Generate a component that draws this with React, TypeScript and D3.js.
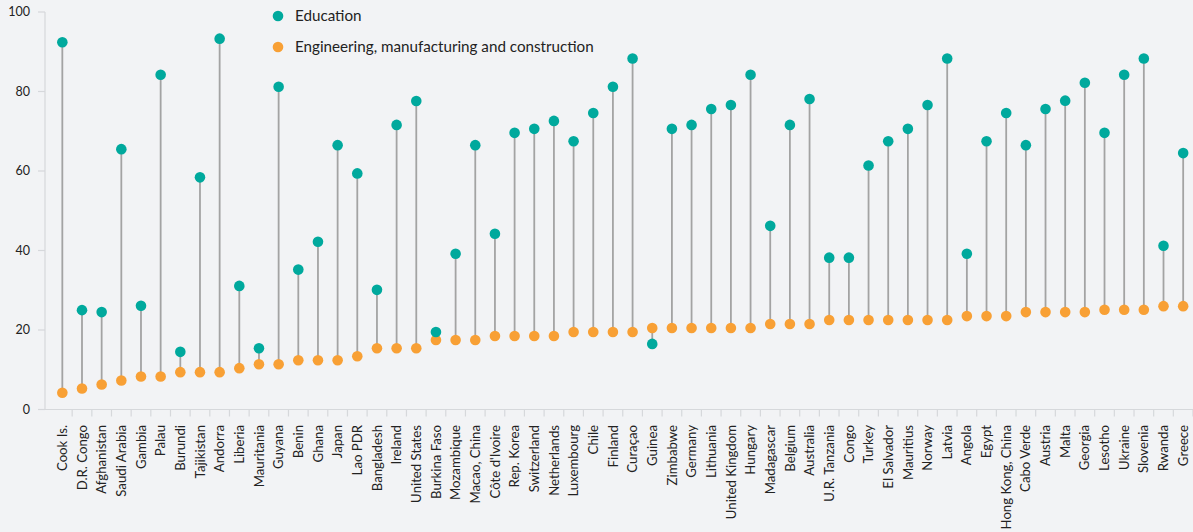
import React from "react";
import * as d3 from "d3";

const countries = [
  "Cook Is.", "D.R. Congo", "Afghanistan", "Saudi Arabia", "Gambia", "Palau", "Burundi", "Tajikistan",
  "Andorra", "Liberia", "Mauritania", "Guyana", "Benin", "Ghana", "Japan", "Lao PDR", "Bangladesh",
  "Ireland", "United States", "Burkina Faso", "Mozambique", "Macao, China", "Côte d'Ivoire", "Rep. Korea",
  "Switzerland", "Netherlands", "Luxembourg", "Chile", "Finland", "Curaçao", "Guinea", "Zimbabwe",
  "Germany", "Lithuania", "United Kingdom", "Hungary", "Madagascar", "Belgium", "Australia",
  "U.R. Tanzania", "Congo", "Turkey", "El Salvador", "Mauritius", "Norway", "Latvia", "Angola", "Egypt",
  "Hong Kong, China", "Cabo Verde", "Austria", "Malta", "Georgia", "Lesotho", "Ukraine", "Slovenia",
  "Rwanda", "Greece",
];

const education = [
  92.4, 25.0, 24.5, 65.5, 26.1, 84.2, 14.5, 58.4, 93.3, 31.1, 15.4, 81.2, 35.2, 42.2, 66.5, 59.4, 30.1,
  71.6, 77.6, 19.5, 39.2, 66.5, 44.2, 69.6, 70.6, 72.6, 67.5, 74.6, 81.2, 88.3, 16.5, 70.6, 71.6, 75.6,
  76.6, 84.2, 46.2, 71.6, 78.1, 38.2, 38.2, 61.4, 67.5, 70.6, 76.6, 88.3, 39.2, 67.5, 74.6, 66.5, 75.6,
  77.7, 82.2, 69.6, 84.2, 88.3, 41.2, 64.5,
];

const engineering = [
  4.2, 5.3, 6.3, 7.3, 8.3, 8.3, 9.4, 9.4, 9.4, 10.4, 11.4, 11.4, 12.4, 12.4, 12.4, 13.4, 15.4, 15.4,
  15.4, 17.5, 17.5, 17.5, 18.5, 18.5, 18.5, 18.5, 19.5, 19.5, 19.5, 19.5, 20.5, 20.5, 20.5, 20.5, 20.5,
  20.5, 21.5, 21.5, 21.5, 22.5, 22.5, 22.5, 22.5, 22.5, 22.5, 22.5, 23.5, 23.5, 23.5, 24.5, 24.5, 24.5,
  24.5, 25.1, 25.1, 25.1, 26.0, 26.0,
];

const yTicks = [0, 20, 40, 60, 80, 100];
const seriesNames = ["Education", "Engineering, manufacturing and construction"];

const W = 1193;
const H = 532;
const TEAL = "#00A99D";
const ORANGE = "#F8A035";
const FONT = "Lato, 'Noto Sans', sans-serif";

export default function App() {
  const x = d3.scaleBand<string>().domain(countries).range([52.5, 1193]).padding(0);
  const y = d3.scaleLinear().domain([0, 100]).range([409.5, 12]);
  const axisX = 45;
  const bw = x.bandwidth();

  return (
    <div style={{ position: "absolute", left: 0, top: 0 }}>
      <svg width={W} height={H} style={{ display: "block", fontFamily: FONT }}>
        <rect x={0} y={0} width={W} height={H} fill="#F2F3F5" />
        {/* y axis */}
        <line x1={axisX} x2={axisX} y1={y(100)} y2={y(0)} stroke="#D6D8DB" strokeWidth={1.2} />
        {yTicks.map((t) => (
          <g key={t}>
            <line x1={axisX - 7} x2={axisX} y1={y(t)} y2={y(t)} stroke="#D6D8DB" strokeWidth={1.2} />
            <text x={30} y={y(t)} dy="0.35em" textAnchor="end" fontSize={12.5} fill="#222">
              {t}
            </text>
          </g>
        ))}
        {/* x axis */}
        <line x1={38} x2={W} y1={y(0)} y2={y(0)} stroke="#D6D8DB" strokeWidth={1.2} />
        {countries.map((c) => (
          <line key={"t" + c} x1={(x(c) as number) + bw} x2={(x(c) as number) + bw} y1={y(0)} y2={y(0) + 7}
            stroke="#D6D8DB" strokeWidth={1.2} />
        ))}
        {countries.map((c) => {
          const cx = (x(c) as number) + bw / 2;
          return (
            <text key={"l" + c} transform={`translate(${cx},425) rotate(-90)`} dy="0.35em" textAnchor="end"
              fontSize={13.2} fill="#222">
              {c}
            </text>
          );
        })}
        {/* stems */}
        {countries.map((c, i) => {
          const cx = (x(c) as number) + bw / 2;
          return (
            <line key={"s" + c} x1={cx} x2={cx} y1={y(education[i])} y2={y(engineering[i])}
              stroke="#A3A3A3" strokeWidth={1.8} />
          );
        })}
        {countries.map((c, i) => {
          const cx = (x(c) as number) + bw / 2;
          return <circle key={"e" + c} cx={cx} cy={y(engineering[i])} r={5.3} fill={ORANGE} />;
        })}
        {countries.map((c, i) => {
          const cx = (x(c) as number) + bw / 2;
          return <circle key={"d" + c} cx={cx} cy={y(education[i])} r={5.3} fill={TEAL} />;
        })}
        {/* legend */}
        {seriesNames.map((s, i) => (
          <g key={s} transform={`translate(278,${16 + i * 31})`}>
            <circle cx={0} cy={0} r={5.3} fill={i === 0 ? TEAL : ORANGE} />
            <text x={17} y={0} dy="0.35em" fontSize={15.2} fill="#222">
              {s}
            </text>
          </g>
        ))}
      </svg>
    </div>
  );
}
